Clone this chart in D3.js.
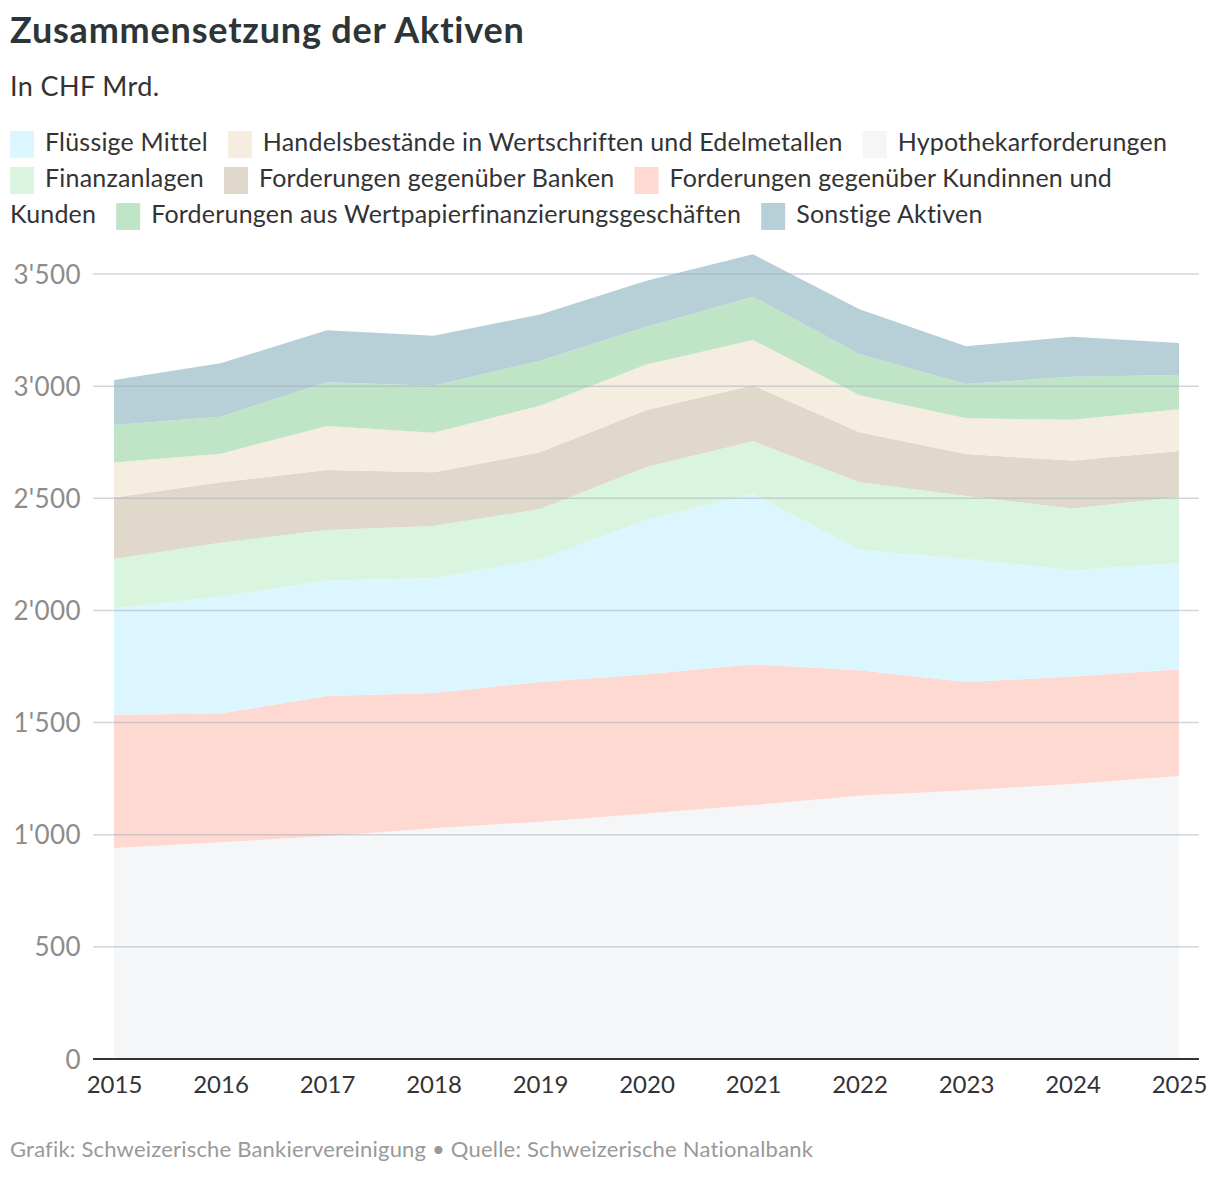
<!DOCTYPE html>
<html lang="de">
<head>
<meta charset="UTF-8">
<title>Zusammensetzung der Aktiven</title>
<style>
  body { margin: 0; background: #fff; }
  svg { display: block; font-family: Lato, "Open Sans", sans-serif; }
</style>
</head>
<body>
<script src="https://d3js.org/d3.v7.min.js"></script>
<script>
// Jahre (x-Achse)
var years = [2015, 2016, 2017, 2018, 2019, 2020, 2021, 2022, 2023, 2024, 2025];

// Werte in CHF Mrd.
var hypothekar   = [941, 966, 994, 1029, 1058, 1095, 1132, 1174, 1198, 1226, 1262];
var kunden       = [594, 574, 624, 603, 623, 620, 628, 559, 483, 479, 476];
var fluessig     = [474, 521, 515, 512, 547, 688, 759, 536, 548, 475, 472];
var finanz       = [220, 241, 226, 232, 224, 236, 235, 302, 281, 274, 296];
var banken       = [275, 269, 267, 240, 253, 255, 250, 223, 187, 214, 205];
var handel       = [156, 128, 196, 176, 208, 203, 202, 165, 160, 182, 186];
var wertpapier   = [167, 165, 195, 210, 200, 168, 193, 183, 153, 192, 153];
var sonstige     = [200, 238, 232, 223, 206, 205, 189, 201, 168, 178, 142];

var yTicks = [0, 500, 1000, 1500, 2000, 2500, 3000, 3500];

// Stapelreihenfolge von unten nach oben
var series = [
  { key: "hyp",  name: "Hypothekarforderungen", values: hypothekar, color: "#f5f6f8" },
  { key: "kun",  name: "Forderungen gegenüber Kundinnen und Kunden", values: kunden, color: "#fed9d1" },
  { key: "flu",  name: "Flüssige Mittel", values: fluessig, color: "#dbf6fe" },
  { key: "fin",  name: "Finanzanlagen", values: finanz, color: "#daf5df" },
  { key: "ban",  name: "Forderungen gegenüber Banken", values: banken, color: "#e1d8cc" },
  { key: "han",  name: "Handelsbestände in Wertschriften und Edelmetallen", values: handel, color: "#f5eddf" },
  { key: "wer",  name: "Forderungen aus Wertpapierfinanzierungsgeschäften", values: wertpapier, color: "#bfe4c6" },
  { key: "son",  name: "Sonstige Aktiven", values: sonstige, color: "#b7cfd7" }
];

// Legende in der Reihenfolge der Vorlage
var legendOrder = ["flu", "han", "hyp", "fin", "ban", "kun", "wer", "son"];

var W = 1220, H = 1178;
var svg = d3.select("body").append("svg").attr("width", W).attr("height", H);

svg.append("text").attr("x", 10).attr("y", 43)
  .attr("font-size", 36).attr("font-weight", 700).attr("fill", "#2d3538")
  .attr("letter-spacing", 0.8)
  .text("Zusammensetzung der Aktiven");
svg.append("text").attr("x", 10).attr("y", 96)
  .attr("font-size", 27).attr("fill", "#333").attr("letter-spacing", 0.4)
  .text("In CHF Mrd.");

// Legende mit Umbruch
var legendFont = 25, legendLS = 0.2, maxX = 1190, lineH = 36;
var measurer = svg.append("text").attr("font-size", legendFont).attr("letter-spacing", legendLS).attr("visibility", "hidden");
function measure(s) { measurer.text(s); return measurer.node().getComputedTextLength(); }
var lg = svg.append("g").attr("font-size", legendFont).attr("letter-spacing", legendLS).attr("fill", "#333");
var lx = 10, ly = 151;
legendOrder.forEach(function(k) {
  var s = series.find(function(d) { return d.key === k; });
  var words = s.name.split(" ");
  if (lx + 35 + measure(words[0]) > maxX) { lx = 10; ly += lineH; }
  lg.append("rect").attr("x", lx).attr("y", ly - 20).attr("width", 24).attr("height", 27).attr("fill", s.color);
  var tx = lx + 35, line = [];
  words.forEach(function(w) {
    var test = line.concat(w).join(" ");
    if (line.length && tx + measure(test) > maxX) {
      lg.append("text").attr("x", tx).attr("y", ly).text(line.join(" "));
      ly += lineH; tx = 10; line = [w];
    } else line.push(w);
  });
  var t = line.join(" ");
  lg.append("text").attr("x", tx).attr("y", ly).text(t);
  lx = tx + measure(t) + 20;
});
measurer.remove();

// Diagramm
var x = d3.scaleLinear().domain([2015, 2025]).range([114, 1179]);
var y = d3.scaleLinear().domain([0, 3500]).range([1059, 274]);

var table = years.map(function(yr, i) {
  var row = { year: yr };
  series.forEach(function(s) { row[s.key] = s.values[i]; });
  return row;
});
var stack = d3.stack().keys(series.map(function(s) { return s.key; }));
var stacked = stack(table);

var area = d3.area()
  .x(function(d) { return x(d.data.year); })
  .y0(function(d) { return y(d[0]); })
  .y1(function(d) { return y(d[1]); });

svg.append("g").selectAll("path").data(stacked).join("path")
  .attr("d", area)
  .attr("fill", function(d, i) { return series[i].color; });

// Gitternetz über den Flächen (halbtransparent)
var grid = svg.append("g");
grid.selectAll("line").data(yTicks.filter(function(t) { return t > 0; })).join("line")
  .attr("x1", 93).attr("x2", 1199)
  .attr("y1", function(d) { return y(d); }).attr("y2", function(d) { return y(d); })
  .attr("stroke", "#a3aeb8").attr("stroke-opacity", 0.5).attr("stroke-width", 1.5);

var fmt = d3.formatLocale({ decimal: ".", thousands: "'", grouping: [3], currency: ["", ""] }).format(",d");
var yAxis = d3.axisLeft(y).tickValues(yTicks).tickFormat(fmt).tickSize(0).tickPadding(0);
svg.append("g").attr("transform", "translate(81,0)").call(yAxis)
  .call(function(g) { g.select(".domain").remove(); })
  .selectAll("text").attr("font-size", 26).attr("fill", "#8c8c8c")
  .attr("letter-spacing", 0.4)
  .attr("font-family", "Lato, sans-serif").attr("dy", "0.35em");

var xAxis = d3.axisBottom(x).tickValues(years).tickFormat(d3.format("d")).tickSize(0).tickPadding(17);
svg.append("g").attr("transform", "translate(0,1059)").call(xAxis)
  .call(function(g) { g.select(".domain").remove(); })
  .selectAll("text").attr("font-size", 24).attr("fill", "#333")
  .attr("font-family", "Lato, sans-serif");

svg.append("line").attr("x1", 93).attr("x2", 1199).attr("y1", 1059).attr("y2", 1059)
  .attr("stroke", "#333").attr("stroke-width", 2);

svg.append("text").attr("x", 10).attr("y", 1157)
  .attr("font-size", 22).attr("fill", "#999").attr("letter-spacing", 0.2)
  .text("Grafik: Schweizerische Bankiervereinigung • Quelle: Schweizerische Nationalbank");
</script>
</body>
</html>
